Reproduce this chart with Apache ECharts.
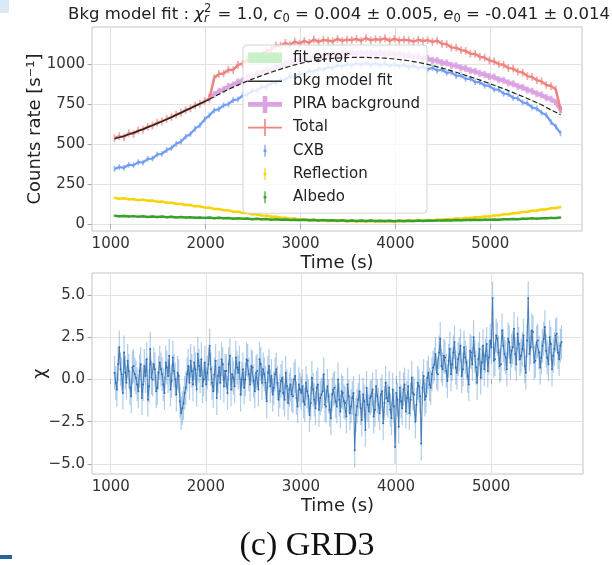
<!DOCTYPE html>
<html><head><meta charset="utf-8">
<script src="https://cdn.jsdelivr.net/npm/echarts@6/dist/echarts.min.js"></script>
<style>html,body{margin:0;padding:0;background:#fff}#c{width:612px;height:565px}</style>
</head><body><div id="c"></div>
<script>
// ---------------- data ----------------
const timeTop = [
1040,1090,1140,1190,1240,1290,1340,1390,1440,1490,
1540,1590,1640,1690,1740,1790,1840,1890,1940,1990,
2040,2090,2140,2190,2240,2290,2340,2390,2440,2490,
2540,2590,2640,2690,2740,2790,2840,2890,2940,2990,
3040,3090,3140,3190,3240,3290,3340,3390,3440,3490,
3540,3590,3640,3690,3740,3790,3840,3890,3940,3990,
4040,4090,4140,4190,4240,4290,4340,4390,4440,4490,
4540,4590,4640,4690,4740,4790,4840,4890,4940,4990,
5040,5090,5140,5190,5240,5290,5340,5390,5440,5490,
5540,5590,5640,5690,5740];
const totalRate = [
536,549,541,568,562,585,590,608,615,633,
641,656,668,684,694,712,722,741,750,768,
783,912,938,940,964,962,994,1002,1028,1025,
1052,1058,1083,1088,1115,1114,1132,1118,1140,1127,
1144,1132,1153,1138,1150,1146,1141,1157,1145,1152,
1150,1156,1145,1162,1148,1155,1151,1160,1144,1158,
1146,1152,1148,1140,1151,1143,1149,1138,1146,1126,
1124,1103,1102,1086,1082,1064,1063,1044,1040,1022,
1016,998,995,974,971,952,946,924,919,898,
891,869,862,840,716];
const piraRate = [
null,null,null,null,null,null,null,null,null,null,
null,null,null,null,null,null,null,null,null,null,
792,809,829,840,859,869,888,896,916,921,
940,944,962,966,983,986,1002,1004,1019,1020,
1034,1033,1046,1044,1055,1052,1062,1058,1067,1062,
1070,1064,1071,1065,1071,1064,1070,1062,1067,1058,
1062,1052,1055,1044,1046,1034,1034,1022,1022,1008,
1006,992,990,976,972,958,954,940,935,921,
918,902,898,882,876,860,854,838,830,814,
806,789,780,761,712];
const cxbRate = [
344,356,351,370,366,386,384,407,408,434,
438,462,474,501,514,545,562,596,616,654,
678,710,718,742,748,774,778,804,808,832,
834,857,858,881,880,902,901,922,920,940,
936,956,951,970,964,982,976,992,984,999,
990,1004,993,1006,993,1005,991,1003,988,1000,
984,995,979,990,973,984,966,976,958,964,
944,948,926,929,906,908,886,886,864,864,
839,839,814,812,788,784,759,754,728,721,
696,680,636,609,566];
const reflectionRate = [
163,157,161,154,155,149,152,145,146,139,
140,133,133,126,125,118,118,110,110,103,
102,94,94,86,85,77,77,69,68,61,
60,53,52,45,45,39,39,33,34,28,
29,24,26,21,24,19,22,18,21,17,
20,16,19,16,19,15,19,16,19,16,
20,17,21,18,22,20,24,22,27,26,
30,29,34,33,38,37,42,42,47,47,
53,54,60,61,67,68,75,76,82,84,
90,91,98,99,106];
const albedoRate = [
51,48,50,46,49,45,48,44,47,43,
46,42,45,41,43,40,42,39,41,38,
40,36,39,35,37,33,36,32,34,30,
33,29,31,27,30,26,28,25,27,24,
26,23,25,22,24,21,23,20,23,19,
22,19,21,18,21,18,20,18,20,17,
20,18,20,18,21,19,21,20,22,21,
23,22,24,23,25,24,26,25,27,26,
28,27,30,29,31,30,33,32,35,33,
36,35,38,37,40];
const bkgFit = [
532,541,550,560,570,581,592,604,616,628,
641,654,667,681,695,709,723,737,751,765,
779,795,811,826,841,855,868,881,893,905,
916,927,938,948,958,968,977,986,994,1002,
1009,1015,1020,1025,1029,1032,1035,1037,1039,1040,
1041,1041,1041,1041,1040,1039,1038,1036,1034,1031,
1028,1024,1020,1015,1010,1004,997,990,982,974,
966,957,948,939,929,919,909,899,889,878,
867,856,845,833,821,809,797,784,771,758,
745,728,713,698,682];
const fitEndIndex = 20;   // fit range ends at 2040 s, dashed extrapolation after
const fitErr = 3;
const totalErr = 24, piraErr = 22, cxbErr = 18, reflErr = 8, albedoErr = 7;

// residuals (two interleaved sets of time bins)
const chiTime = [
1040,1065,1090,1115,1140,1165,1190,1215,1240,1265,
1290,1315,1340,1365,1390,1415,1440,1465,1490,1515,
1540,1565,1590,1615,1640,1665,1690,1715,1740,1765,
1790,1815,1840,1865,1890,1915,1940,1965,1990,2015,
2040,2065,2090,2115,2140,2165,2190,2215,2240,2265,
2290,2315,2340,2365,2390,2415,2440,2465,2490,2515,
2540,2565,2590,2615,2640,2665,2690,2715,2740,2765,
2790,2815,2840,2865,2890,2915,2940,2965,2990,3015,
3040,3065,3090,3115,3140,3165,3190,3215,3240,3265,
3290,3315,3340,3365,3390,3415,3440,3465,3490,3515,
3540,3565,3590,3615,3640,3665,3690,3715,3740,3765,
3790,3815,3840,3865,3890,3915,3940,3965,3990,4015,
4040,4065,4090,4115,4140,4165,4190,4215,4240,4265,
4290,4315,4340,4365,4390,4415,4440,4465,4490,4515,
4540,4565,4590,4615,4640,4665,4690,4715,4740,4765,
4790,4815,4840,4865,4890,4915,4940,4965,4990,5015,
5040,5065,5090,5115,5140,5165,5190,5215,5240,5265,
5290,5315,5340,5365,5390,5415,5440,5465,5490,5515,
5540,5565,5590,5615,5640,5665,5690,5715,5740];
const chiVals = [
0.4,-0.6,1.9,0.3,1.6,-0.2,0.5,-1.0,0.8,0.1,
-0.7,0.9,-0.3,0.2,-1.2,1.8,0.0,0.6,-0.5,1.0,
0.3,-0.8,0.7,1.4,-0.1,0.5,-0.9,0.2,-2.0,-1.4,
-0.5,0.8,1.1,-0.3,0.6,1.5,0.2,-0.4,1.0,0.4,
2.0,-0.2,0.3,-1.1,0.7,1.2,-0.4,0.5,0.9,-0.6,
0.1,1.3,0.4,-0.9,0.6,0.0,1.1,-0.3,0.7,-0.7,
0.5,1.2,-0.2,0.3,-1.3,0.8,0.2,-0.5,0.6,-1.2,
-0.1,-0.8,0.4,-1.4,-0.3,-1.0,0.2,-1.6,-0.6,-0.4,
-1.5,-0.7,-2.1,0.1,-1.2,-0.5,-1.8,-0.9,0.3,-1.6,
-1.0,-2.3,-0.6,-1.3,0.0,-1.9,-0.8,-1.4,-0.3,-2.0,
-1.1,-4.2,-1.6,-0.7,-2.4,-1.3,-0.5,-1.9,-1.0,-2.2,
-0.4,-1.5,-0.9,-2.6,-0.2,-1.3,-1.8,-0.6,-4.0,-1.2,
-0.5,-1.7,-0.3,-1.1,-2.0,0.1,-0.9,-1.5,-0.4,-3.8,
0.2,-1.0,0.4,-0.5,0.7,1.5,0.3,2.4,0.6,1.3,
-0.1,1.8,0.9,2.2,0.4,1.5,0.2,1.9,1.0,-0.3,
1.6,2.5,0.7,1.2,0.1,2.0,1.4,0.5,2.3,4.8,
1.2,2.4,0.8,2.9,1.5,0.6,2.2,1.7,3.0,0.9,
2.1,1.4,2.6,0.4,4.8,1.9,2.8,1.1,2.3,0.7,
2.0,3.1,1.3,2.5,0.6,1.8,2.7,1.2,2.2];
const chiTimeB = [
1053,1078,1103,1128,1153,1178,1203,1228,1253,1278,
1303,1328,1353,1378,1403,1428,1453,1478,1503,1528,
1553,1578,1603,1628,1653,1678,1703,1728,1753,1778,
1803,1828,1853,1878,1903,1928,1953,1978,2003,2028,
2053,2078,2103,2128,2153,2178,2203,2228,2253,2278,
2303,2328,2353,2378,2403,2428,2453,2478,2503,2528,
2553,2578,2603,2628,2653,2678,2703,2728,2753,2778,
2803,2828,2853,2878,2903,2928,2953,2978,3003,3028,
3053,3078,3103,3128,3153,3178,3203,3228,3253,3278,
3303,3328,3353,3378,3403,3428,3453,3478,3503,3528,
3553,3578,3603,3628,3653,3678,3703,3728,3753,3778,
3803,3828,3853,3878,3903,3928,3953,3978,4003,4028,
4053,4078,4103,4128,4153,4178,4203,4228,4253,4278,
4303,4328,4353,4378,4403,4428,4453,4478,4503,4528,
4553,4578,4603,4628,4653,4678,4703,4728,4753,4778,
4803,4828,4853,4878,4903,4928,4953,4978,5003,5028,
5053,5078,5103,5128,5153,5178,5203,5228,5253,5278,
5303,5328,5353,5378,5403,5428,5453,5478,5503,5528,
5553,5578,5603,5628,5653,5678,5703,5728];
const chiValsB = [
-0.2,0.9,0.6,-0.8,0.4,1.1,-0.5,0.7,0.3,-0.3,
0.5,-1.1,0.8,1.2,-0.4,0.1,0.9,-0.7,0.4,0.6,
-0.3,1.0,0.2,-0.6,1.3,0.0,0.4,-1.3,-1.7,-0.8,
0.3,-0.2,0.5,1.0,-0.6,0.8,1.2,0.0,-0.3,0.9,
0.6,-0.7,1.1,0.2,-0.2,0.9,0.5,-0.8,1.4,0.3,
-0.4,0.7,1.0,0.0,-0.5,1.2,0.3,0.8,-0.1,0.4,
-0.6,0.9,0.6,-0.2,0.4,-0.4,-0.9,0.3,-0.2,-0.7,
0.1,-1.2,-0.4,-0.6,-0.9,0.0,-1.1,-0.3,-0.8,-1.3,
-0.2,-1.0,-1.4,-0.6,-1.7,-0.3,-1.1,-0.7,-1.5,-0.4,
-1.8,-0.9,-0.5,-1.6,-1.2,-0.7,-1.3,-2.2,-1.0,-1.6,
-0.8,-2.1,-1.2,-1.7,-0.9,-3.0,-1.5,-1.1,-0.6,-1.8,
-1.0,-2.0,-0.7,-1.4,-1.1,-0.5,-2.3,-1.6,-0.8,-2.8,
-1.3,-0.6,-1.9,-0.4,-1.2,-0.8,-2.5,-0.2,-1.0,-0.5,
-1.2,0.1,-0.3,0.3,0.9,0.4,1.6,0.8,1.4,0.5,
1.1,0.3,1.6,0.7,1.2,2.0,0.6,1.3,0.2,1.7,
0.9,1.4,-0.2,1.8,1.0,0.6,2.1,1.3,1.9,1.1,
2.6,1.6,0.9,2.0,1.3,2.4,1.0,1.9,1.5,2.7,
1.2,1.8,0.8,2.3,1.5,2.9,1.0,2.2,1.6,1.3,
2.4,1.7,0.9,2.1,1.4,2.6,1.6,2.0];
const chiErr = 1;

const xTicks = [1000, 2000, 3000, 4000, 5000];
const yTicksTop = [0, 250, 500, 750, 1000];
const yTicksChi = [-5, -2.5, 0, 2.5, 5];

// ---------------- helpers ----------------
const FONT = 'DejaVu Sans';
const pairs = (xs, ys) => xs.map((x, i) => [x, ys[i]]);
const fitSolid = timeTop.map((t, i) => [t, i <= fitEndIndex ? bkgFit[i] : null]);
const fitDashed = timeTop.map((t, i) => [t, i >= fitEndIndex ? bkgFit[i] : null]);
const chiData = pairs(chiTime, chiVals).concat(pairs(chiTimeB, chiValsB)).sort((a, b) => a[0] - b[0]);

const C = {
  total: '#ee8480', cxb: '#6f9cf0', refl: '#f7d308', albedo: '#38a12c',
  pira: '#dca3e2', fitErr: '#c9f0c9', chi: '#3a7cbd', chiLine: '#2f6fb0'
};

function pad(p) { return 'path://M0,0L0,0M40,18L40,18' + p; }
const icons = {
  fitErr: pad('M0,3.5L34,3.5L34,14L0,14Z'),
  line: pad('M0,8.2L34,8.2L34,9.8L0,9.8Z'),
  thickCross: pad('M0,6.7L34,6.7L34,11.3L0,11.3ZM14.7,0.5L19.3,0.5L19.3,17.5L14.7,17.5Z'),
  thinCross: pad('M0,8.2L34,8.2L34,9.8L0,9.8ZM16.2,0.5L17.8,0.5L17.8,17.5L16.2,17.5Z'),
  tick: pad('M16.4,3L17.6,3L17.6,15L16.4,15ZM15.6,7.8L18.4,7.8L18.4,10.2L15.6,10.2Z')
};

function titleGraphics() {
  const ctx = document.createElement('canvas').getContext('2d');
  const base = 16.5, small = 11.5, cy = 15, cx = 339;
  const parts = [
    {t: 'Bkg model fit : ', s: base},
    {t: 'χ', s: base, it: true},
    {t: '2', s: small, dy: -5.5, hold: true},
    {t: 'r', s: small, it: true, dy: 4.5},
    {t: ' = 1.0, ', s: base},
    {t: 'c', s: base, it: true},
    {t: '0', s: small, dy: 4.5},
    {t: ' = 0.004 ± 0.005, ', s: base},
    {t: 'e', s: base, it: true},
    {t: '0', s: small, dy: 4.5},
    {t: ' = -0.041 ± 0.014', s: base}
  ];
  let x = 0, holdX = null, holdW = 0;
  const items = [];
  parts.forEach(p => {
    ctx.font = (p.it ? 'italic ' : '') + p.s + 'px "' + FONT + '"';
    const w = ctx.measureText(p.t).width;
    if (p.hold) { items.push({p, x}); holdX = x; holdW = w; return; }
    if (holdX !== null) { items.push({p, x: holdX}); x = holdX + Math.max(w, holdW) + 1; holdX = null; return; }
    items.push({p, x}); x += w;
  });
  const start = cx - x / 2;
  return items.map(({p, x}) => ({
    type: 'text', x: start + x, y: cy + (p.dy || 0), silent: true,
    style: {text: p.t, fontSize: p.s, fontFamily: FONT, fontStyle: p.it ? 'italic' : 'normal',
            fill: '#222', align: 'left', verticalAlign: 'middle'}
  }));
}

function errorbarSeries(name, data, err, color, gridIdx, o) {
  o = o || {};
  return {
    name, type: 'custom', xAxisIndex: gridIdx, yAxisIndex: gridIdx, clip: true, silent: true,
    data, z: o.z || 2,
    renderItem(params, api) {
      const t = api.value(0), v = api.value(1);
      if (v == null || isNaN(v)) return null;
      const a = api.coord([t, v + err]), b = api.coord([t, v - err]), c = api.coord([t, v]);
      const ch = [{type: 'line', shape: {x1: a[0], y1: a[1], x2: b[0], y2: b[1]},
         style: {stroke: color, lineWidth: o.w || 1, opacity: o.op || 0.6}}];
      if (o.dot) ch.push({type: 'circle', shape: {cx: c[0], cy: c[1], r: o.dot}, style: {fill: o.dotColor || color}});
      return {type: 'group', children: ch};
    }
  };
}

function lineSeries(name, data, color, width, z, extra, axisIdx) {
  const ai = axisIdx || 0;
  return Object.assign({
    name, type: 'line', data, xAxisIndex: ai, yAxisIndex: ai, symbol: 'none', silent: true,
    connectNulls: false, z, color,
    lineStyle: {color, width}, emphasis: {disabled: true}
  }, extra || {});
}

const axisCommon = {
  axisLine: {show: false},
  axisTick: {show: true, length: 4.5, lineStyle: {color: '#aaa', width: 1}},
  splitLine: {show: true, lineStyle: {color: '#e2e2e2', width: 1}},
  nameTextStyle: {fontSize: 18, fontFamily: FONT, color: '#222'},
  nameMoveOverlap: false
};

const xAxisDef = (g) => Object.assign({}, axisCommon, {
  type: 'value', gridIndex: g, min: 803, max: 5966,
  axisTick: Object.assign({}, axisCommon.axisTick, {customValues: xTicks}),
  axisLabel: {customValues: xTicks, margin: 6, fontSize: 15, fontFamily: FONT, color: '#333',
    formatter: v => String(v)},
  name: 'Time (s)', nameLocation: 'middle', nameGap: 23
});

const option = {
  animation: false,
  backgroundColor: '#fff',
  textStyle: {fontFamily: FONT},
  grid: [
    {left: 92, top: 27, width: 490, height: 204, show: true, borderColor: '#c4c4c4', borderWidth: 1, backgroundColor: 'transparent'},
    {left: 92, top: 273, width: 491, height: 201, show: true, borderColor: '#c4c4c4', borderWidth: 1, backgroundColor: 'transparent'}
  ],
  xAxis: [xAxisDef(0), xAxisDef(1)],
  yAxis: [
    Object.assign({}, axisCommon, {
      type: 'value', gridIndex: 0, min: -44, max: 1231,
      axisTick: Object.assign({}, axisCommon.axisTick, {customValues: yTicksTop}),
      axisLabel: {customValues: yTicksTop, margin: 7, fontSize: 15, fontFamily: FONT, color: '#333',
        formatter: v => String(v)},
      name: 'Counts rate [s⁻¹]', nameLocation: 'middle', nameGap: 48
    }),
    Object.assign({}, axisCommon, {
      type: 'value', gridIndex: 1, min: -5.6, max: 6.3,
      axisTick: Object.assign({}, axisCommon.axisTick, {customValues: yTicksChi}),
      axisLabel: {customValues: yTicksChi, margin: 7, fontSize: 15, fontFamily: FONT, color: '#333',
        formatter: v => (v < 0 ? '\u2212' : '') + Math.abs(v).toFixed(1)},
      name: 'χ', nameLocation: 'middle', nameGap: 43
    })
  ],
  legend: {
    orient: 'vertical', left: 243, top: 45, itemWidth: 40, itemHeight: 18, itemGap: 5.2,
    padding: [4, 7, 7, 5], backgroundColor: 'rgba(255,255,255,0.8)', borderColor: '#d4d4d4',
    borderWidth: 1, borderRadius: 4, selectedMode: false, symbolKeepAspect: true,
    textStyle: {fontSize: 15, fontFamily: FONT, color: '#222', lineHeight: 18},
    data: [
      {name: 'fit error', icon: icons.fitErr, itemStyle: {color: C.fitErr, borderWidth: 0}},
      {name: 'bkg model fit', icon: icons.line, itemStyle: {color: '#333', borderWidth: 0}},
      {name: 'PIRA background', icon: icons.thickCross, itemStyle: {color: C.pira, borderWidth: 0}},
      {name: 'Total', icon: icons.thinCross, itemStyle: {color: C.total, borderWidth: 0}},
      {name: 'CXB', icon: icons.tick, itemStyle: {color: C.cxb, borderWidth: 0}},
      {name: 'Reflection', icon: icons.tick, itemStyle: {color: C.refl, borderWidth: 0}},
      {name: 'Albedo', icon: icons.tick, itemStyle: {color: C.albedo, borderWidth: 0}}
    ]
  },
  series: [
    lineSeries('Reflection', pairs(timeTop, reflectionRate), C.refl, 2.5, 2),
    errorbarSeries('Reflection', pairs(timeTop, reflectionRate), reflErr, C.refl, 0, {w: 1.5, op: 0.8}),
    lineSeries('Albedo', pairs(timeTop, albedoRate), C.albedo, 2.5, 2),
    errorbarSeries('Albedo', pairs(timeTop, albedoRate), albedoErr, C.albedo, 0, {w: 1.5, op: 0.8}),
    lineSeries('CXB', pairs(timeTop, cxbRate), C.cxb, 2.2, 2),
    errorbarSeries('CXB', pairs(timeTop, cxbRate), cxbErr, C.cxb, 0, {w: 1.6, op: 0.7}),
    lineSeries('PIRA background', pairs(timeTop, piraRate), C.pira, 4, 2),
    errorbarSeries('PIRA background', pairs(timeTop, piraRate), piraErr, C.pira, 0, {w: 3, op: 0.8}),
    lineSeries('Total', pairs(timeTop, totalRate), C.total, 2.5, 3),
    errorbarSeries('Total', pairs(timeTop, totalRate), totalErr, C.total, 0, {w: 1.7, op: 0.7, z: 3}),
    {
      name: 'fit error', type: 'custom', xAxisIndex: 0, yAxisIndex: 0, silent: true, z: 3,
      data: pairs(timeTop, bkgFit), color: C.fitErr,
      renderItem(params, api) {
        const i = params.dataIndex;
        if (i >= timeTop.length - 1) return null;
        const p1 = api.coord([timeTop[i], bkgFit[i] + fitErr]);
        const p2 = api.coord([timeTop[i + 1], bkgFit[i + 1] + fitErr]);
        const p3 = api.coord([timeTop[i + 1], bkgFit[i + 1] - fitErr]);
        const p4 = api.coord([timeTop[i], bkgFit[i] - fitErr]);
        return {type: 'polygon', shape: {points: [p1, p2, p3, p4]}, style: {fill: C.fitErr, opacity: 0.8}};
      }
    },
    lineSeries('bkg model fit', fitSolid, '#222', 1.5, 4),
    lineSeries('bkg model extrapolation', fitDashed, '#222', 1.2, 10, {lineStyle: {color: '#222', width: 1.2, type: [5, 2.5]}}),
    errorbarSeries('chi', chiData, chiErr, '#4f8fcc', 1, {w: 1.2, op: 0.45, dot: 1.0, dotColor: C.chiLine}),
    lineSeries('chi line', chiData, C.chiLine, 1.1, 3, {lineStyle: {color: C.chiLine, width: 1.1, opacity: 0.85}}, 1)
  ],
  graphic: titleGraphics().concat([
    {type: 'text', x: 307, y: 546, silent: true,
     style: {text: '(c) GRD3', fontSize: 34, fontFamily: 'Liberation Serif', fill: '#111', align: 'center', verticalAlign: 'middle'}},
    {type: 'rect', shape: {x: 0, y: 0, width: 9, height: 13}, style: {fill: '#dbe9f6'}, silent: true},
    {type: 'rect', shape: {x: 0, y: 555, width: 12, height: 4}, style: {fill: '#2a62a0'}, silent: true}
  ])
};

const chart = echarts.init(document.getElementById('c'), null, {renderer: 'canvas'});
chart.setOption(option);
</script>
</body></html>
